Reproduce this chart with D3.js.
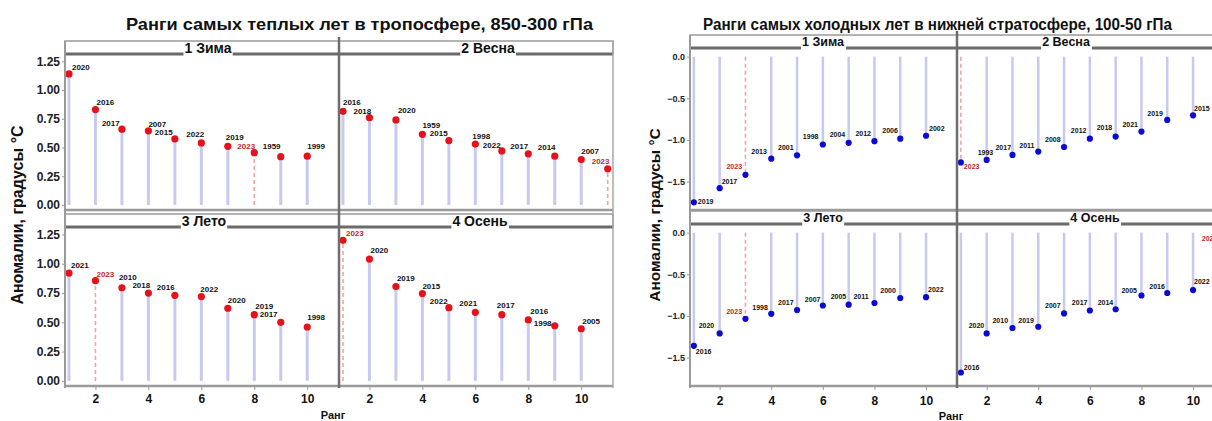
<!DOCTYPE html>
<html>
<head>
<meta charset="utf-8">
<script src="https://cdn.jsdelivr.net/npm/d3@7"></script>
<style>
  body { margin: 0; background: #fff; }
  svg { display: block; font-family: "Liberation Sans", Arial, sans-serif; }
</style>
</head>
<body>
<svg id="chart" width="1212" height="421"></svg>
<script>
// facets, same for both charts
var seasons = ["1 Зима", "2 Весна", "3 Лето", "4 Осень"];
var highlightYear = 2023;
var xTicks = [2, 4, 6, 8, 10];

// warmest years, troposphere 850-300 hPa (rank = position + 1)
var warmYears = [
    [2020, 2016, 2017, 2007, 2015, 2022, 2019, 2023, 1959, 1999],
    [2016, 2018, 2020, 1959, 2015, 1998, 2022, 2017, 2014, 2007, 2023],
    [2021, 2023, 2010, 2018, 2016, 2022, 2020, 2019, 2017, 1998],
    [2023, 2020, 2019, 2015, 2022, 2021, 2017, 2016, 1998, 2005]
];
var warmValues = [
    [1.14, 0.83, 0.66, 0.645, 0.575, 0.54, 0.51, 0.455, 0.42, 0.425],
    [0.815, 0.76, 0.74, 0.615, 0.56, 0.53, 0.47, 0.445, 0.425, 0.395, 0.315],
    [0.92, 0.855, 0.795, 0.75, 0.73, 0.72, 0.62, 0.565, 0.50, 0.46],
    [1.20, 1.04, 0.805, 0.745, 0.625, 0.585, 0.565, 0.52, 0.47, 0.445]
];
var warmYTicks = [0, 0.25, 0.5, 0.75, 1.0, 1.25];

// coldest years, lower stratosphere 100-50 hPa
var coldYears = [
    [2019, 2017, 2023, 2013, 2001, 1998, 2004, 2012, 2006, 2002],
    [2023, 1993, 2017, 2011, 2008, 2012, 2018, 2021, 2019, 2015],
    [2016, 2020, 2023, 1998, 2017, 2007, 2005, 2011, 2000, 2022],
    [2016, 2020, 2010, 2019, 2007, 2017, 2014, 2005, 2016, 2022, 2023]
];
var coldValues = [
    [-1.75, -1.58, -1.42, -1.225, -1.185, -1.055, -1.035, -1.015, -0.985, -0.95],
    [-1.27, -1.24, -1.18, -1.14, -1.085, -0.985, -0.96, -0.90, -0.76, -0.705],
    [-1.36, -1.21, -1.035, -0.975, -0.93, -0.875, -0.865, -0.845, -0.785, -0.775],
    [-1.68, -1.21, -1.145, -1.13, -0.97, -0.935, -0.92, -0.755, -0.725, -0.69, -0.15]
];
var coldYTicks = [0, -0.5, -1.0, -1.5];

/* label nudges (px from the point), repel-like placement of the original */
var warmNudge = [
    [[3,-4],[1,-5],[-20,-3],[0,-4],[-20,-4],[-15,-6],[-2,-6],[-17,-4],[-18,-8],[0,-7]],
    [[0,-6],[-16,-4],[2,-7],[0,-6],[-19,-5],[-3,-5],[-19,-3],[-18,-5],[-17,-6],[0,-6],[-16,-5]],
    [[2,-5],[1,-4],[-3,-8],[-16,-5],[-18,-5],[-1,-5],[0,-5],[1,-6],[-21,-5],[0,-7]],
    [[3,-4],[1,-6],[1,-6],[0,-5],[-19,-4],[-16,-6],[-5,-7],[2,-6],[-21,0],[1,-5]]
];
var coldNudge = [
    [[4,2],[2,-4],[-19,-6],[-20,-5],[-19,-5],[-20,-5],[-19,-6],[-19,-5],[-18,-6],[3,-5]],
    [[3,7],[-9,-5],[-17,-5],[-19,-4],[-19,-5],[-19,-6],[-19,-7],[-19,-5],[-20,-4],[1,-4]],
    [[2,8],[-21,-5],[-19,-5],[-19,-4],[-19,-5],[-18,-4],[-18,-6],[-21,-4],[-20,-5],[2,-5]],
    [[3,-3],[-18,-5],[-20,-5],[-20,-4],[-19,-5],[-18,-5],[-18,-4],[-20,-3],[-18,-4],[1,-6],[-17,-4]]
];

var svg = d3.select("#chart");

var charts = [
    {
        title: "Ранги самых теплых лет в тропосфере, 850-300 гПа",
        titleX: 126, titleLen: 467, titleSize: 17,
        years: warmYears, values: warmValues, nudge: warmNudge,
        yTicks: warmYTicks, yFormat: d3.format(".2f"), yDomain: [-0.035, 1.305],
        x0: 65, colW: 274,
        rows: [{strip: 41, top: 55, bottom: 209}, {strip: 214, top: 228, bottom: 385}],
        stripH: 13, stripFont: 14,
        stripX: [208, 488, 204, 480],
        dot: "#e3121b", dotR: 3.6, stemW: 3, labelFont: 8,
        yTickFont: 12, xTickY: 404, xTitleX: 333, xTitleY: 419,
        yTitleX: 23, yTitleY: 215, yTitleFont: 16
    },
    {
        title: "Ранги самых холодных лет в нижней стратосфере, 100-50 гПа",
        titleX: 703, titleLen: 469, titleSize: 16,
        years: coldYears, values: coldValues, nudge: coldNudge,
        yTicks: coldYTicks, yFormat: d3.format(".1f"), yDomain: [-1.83, 0.08],
        x0: 690, colW: 267,
        rows: [{strip: 35, top: 50, bottom: 209}, {strip: 211, top: 226, bottom: 385}],
        stripH: 13, stripFont: 12.5,
        stripX: [823, 1066, 823, 1095],
        dot: "#0a0ad2", dotR: 3.1, stemW: 2.5, labelFont: 7,
        yTickFont: 9, xTickY: 406, xTitleX: 951, xTitleY: 420,
        yTitleX: 660, yTitleY: 215, yTitleFont: 15.5
    }
];

charts.forEach(function (ch) {

    var g = svg.append("g");

    g.append("text")
        .attr("x", ch.titleX)
        .attr("y", 30)
        .attr("textLength", ch.titleLen)
        .attr("lengthAdjust", "spacingAndGlyphs")
        .style("font-size", ch.titleSize + "px")
        .style("font-weight", "bold")
        .attr("fill", "#111")
        .text(ch.title);

    var right = ch.x0 + 2 * ch.colW;

    ch.rows.forEach(function (row, r) {

        var y = d3.scaleLinear().domain(ch.yDomain).range([row.bottom, row.top]);

        /* y axis ticks for this row */
        var yAxis = g.append("g")
            .attr("transform", "translate(" + ch.x0 + ",0)")
            .call(d3.axisLeft(y).tickValues(ch.yTicks).tickFormat(ch.yFormat).tickSize(3).tickPadding(2));
        yAxis.select(".domain").remove();
        yAxis.selectAll("line").attr("stroke", "#999");
        yAxis.selectAll("text")
            .attr("fill", "#222")
            .style("font-size", ch.yTickFont + "px")
            .style("font-weight", "bold")
            .style("font-family", "'Liberation Sans', Arial, sans-serif");

        for (var c = 0; c < 2; c++) {
            var f = r * 2 + c;
            var px = ch.x0 + c * ch.colW;
            var x = d3.scaleLinear().domain([0.85, 11.2]).range([px, px + ch.colW]);

            /* strip */
            g.append("rect")
                .attr("x", px).attr("y", row.strip)
                .attr("width", ch.colW).attr("height", ch.stripH)
                .attr("fill", "#fff").attr("stroke", "#9a9a9a").attr("stroke-width", 1.5);
            g.append("line")
                .attr("x1", px).attr("x2", px + ch.colW)
                .attr("y1", row.strip + ch.stripH).attr("y2", row.strip + ch.stripH)
                .attr("stroke", "#6a6a6a").attr("stroke-width", 3);

            var lab = g.append("text")
                .attr("x", ch.stripX[f])
                .attr("y", row.strip + ch.stripH / 2 + ch.stripFont * 0.36)
                .attr("text-anchor", "middle")
                .style("font-size", ch.stripFont + "px")
                .style("font-weight", "bold")
                .attr("fill", "#111")
                .text(seasons[f]);
            var bb = lab.node().getBBox();
            g.insert("rect", function () { return lab.node(); })
                .attr("x", bb.x - 1).attr("y", row.strip + 1)
                .attr("width", bb.width + 2).attr("height", ch.stripH + 1)
                .attr("fill", "#fff");

            /* panel bottom line */
            g.append("line")
                .attr("x1", px).attr("x2", px + ch.colW)
                .attr("y1", row.bottom + 1).attr("y2", row.bottom + 1)
                .attr("stroke", "#9a9a9a").attr("stroke-width", 2.5);

            var pts = ch.values[f].map(function (v, i) {
                return { rank: i + 1, value: v, year: ch.years[f][i], nudge: ch.nudge[f][i] };
            });

            /* stems */
            g.append("g").selectAll("line")
                .data(pts)
                .enter().append("line")
                .attr("x1", function (d) { return x(d.rank); })
                .attr("x2", function (d) { return x(d.rank); })
                .attr("y1", y(0))
                .attr("y2", function (d) { return y(d.value); })
                .attr("stroke", function (d) { return d.year === highlightYear ? "#f2a3a6" : "#c9c9ef"; })
                .attr("stroke-width", function (d) { return d.year === highlightYear ? 1.6 : ch.stemW; })
                .attr("stroke-dasharray", function (d) { return d.year === highlightYear ? "4,3" : null; });

            /* points */
            g.append("g").selectAll("circle")
                .data(pts)
                .enter().append("circle")
                .attr("cx", function (d) { return x(d.rank); })
                .attr("cy", function (d) { return y(d.value); })
                .attr("r", ch.dotR)
                .attr("fill", ch.dot);

            /* year labels */
            g.append("g").selectAll("text")
                .data(pts)
                .enter().append("text")
                .attr("x", function (d) { return x(d.rank) + d.nudge[0]; })
                .attr("y", function (d) { return y(d.value) + d.nudge[1]; })
                .style("font-size", ch.labelFont + "px")
                .style("font-weight", "bold")
                .attr("fill", function (d) { return d.year === highlightYear ? "#c0282d" : "#111"; })
                .text(function (d) { return d.year; });

            /* x axis under the bottom row */
            if (r === 1) {
                var xAxis = g.append("g")
                    .attr("transform", "translate(0," + (row.bottom + 2) + ")")
                    .call(d3.axisBottom(x).tickValues(xTicks).tickSize(3).tickPadding(ch.xTickY - row.bottom - 15));
                xAxis.select(".domain").remove();
                xAxis.selectAll("line").attr("stroke", "#999");
                xAxis.selectAll("text")
                    .attr("fill", "#111")
                    .style("font-size", "12px")
                    .style("font-weight", "bold")
                    .style("font-family", "'Liberation Sans', Arial, sans-serif");
            }
        }
    });

    var topY = ch.rows[0].strip;
    var botY = ch.rows[1].bottom + 3;

    /* left axis line, divider, right border */
    g.append("line")
        .attr("x1", ch.x0).attr("x2", ch.x0)
        .attr("y1", topY).attr("y2", botY)
        .attr("stroke", "#9a9a9a").attr("stroke-width", 2);
    g.append("line")
        .attr("x1", ch.x0 + ch.colW).attr("x2", ch.x0 + ch.colW)
        .attr("y1", topY - 4).attr("y2", botY)
        .attr("stroke", "#6e6e6e").attr("stroke-width", 2.5);
    g.append("line")
        .attr("x1", right).attr("x2", right)
        .attr("y1", topY).attr("y2", botY)
        .attr("stroke", "#a8a8a8").attr("stroke-width", 1.5);

    /* axis titles */
    g.append("text")
        .attr("x", ch.xTitleX).attr("y", ch.xTitleY)
        .attr("text-anchor", "middle")
        .style("font-size", "11px")
        .style("font-weight", "bold")
        .attr("fill", "#111")
        .text("Ранг");

    g.append("text")
        .attr("transform", "translate(" + ch.yTitleX + "," + ch.yTitleY + ") rotate(-90)")
        .attr("text-anchor", "middle")
        .style("font-size", ch.yTitleFont + "px")
        .style("font-weight", "bold")
        .attr("fill", "#111")
        .text("Аномалии, градусы °C");
});
</script>
</body>
</html>
